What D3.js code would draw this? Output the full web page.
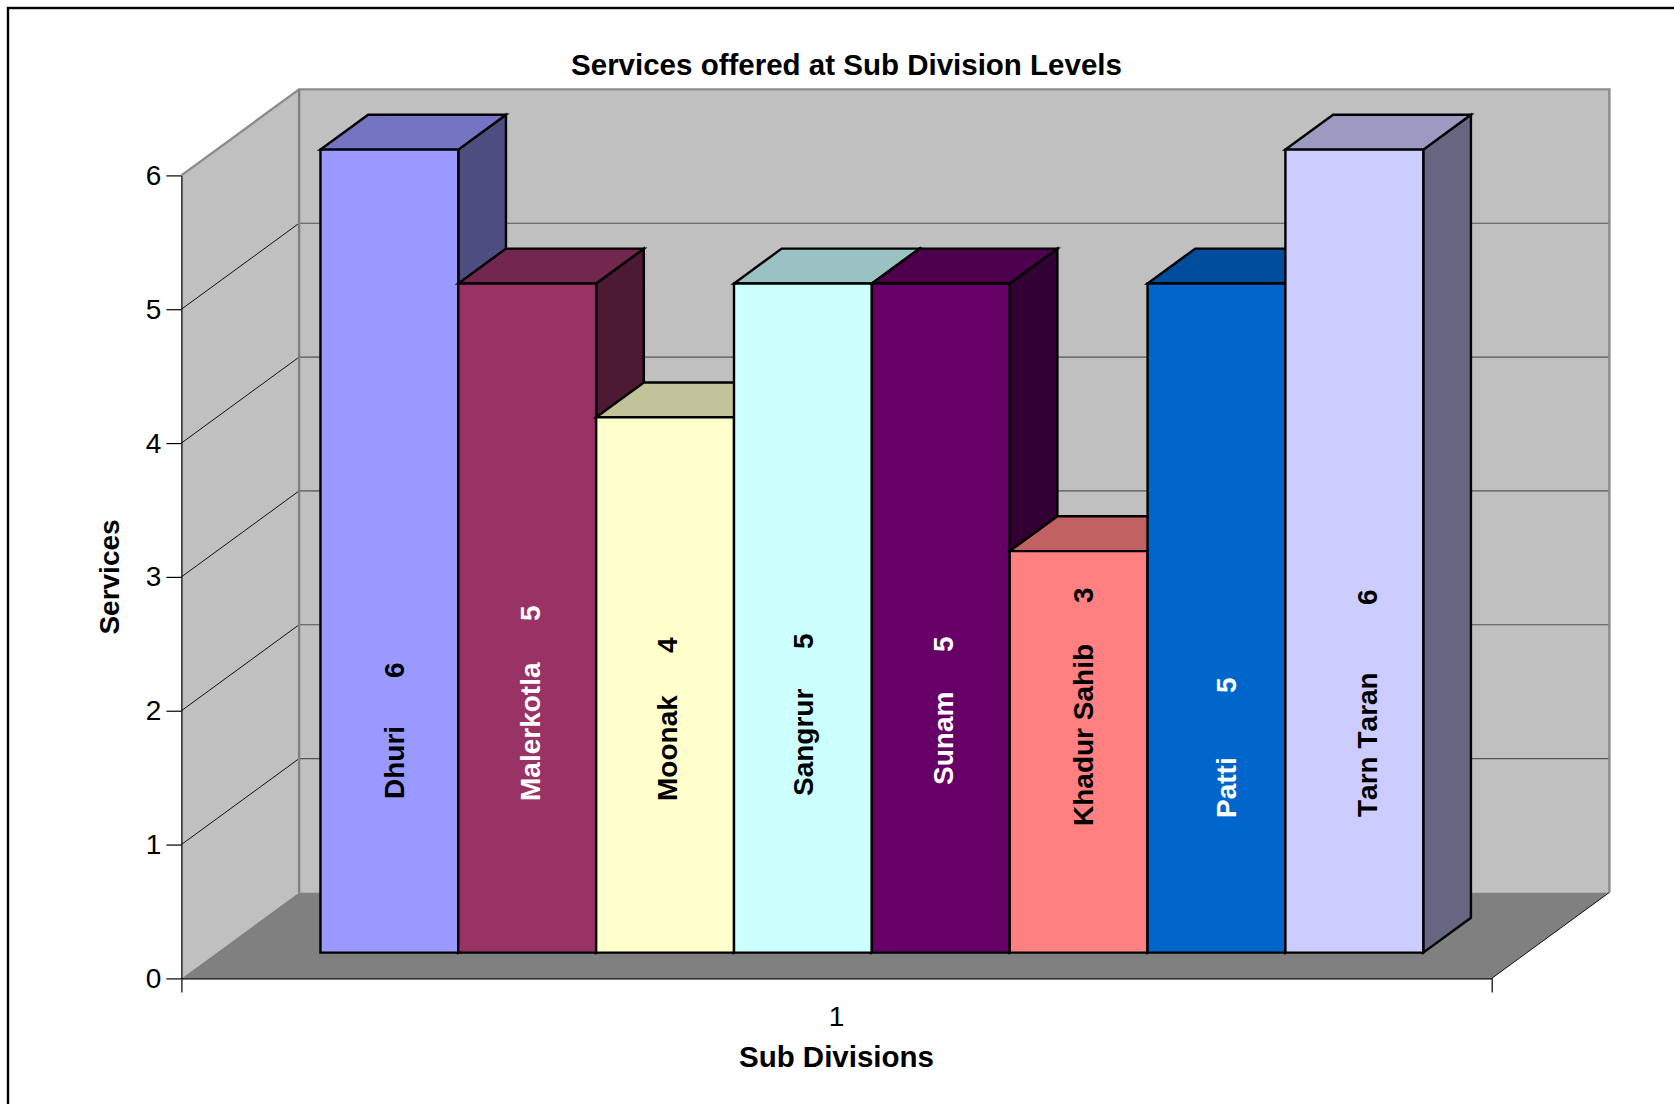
<!DOCTYPE html>
<html>
<head>
<meta charset="utf-8">
<script src="https://cdn.jsdelivr.net/npm/d3@7"></script>
<style>
  html, body { margin: 0; padding: 0; background: #fff; overflow: hidden; }
  #graf { width: 1674px; height: 1104px; }
  svg { display: block; }
  text { font-family: "Liberation Sans", Arial, sans-serif; fill: #000; }
  .eje path, .eje line { stroke: #000; stroke-width: 1.2px; }
  .eje text { font-size: 28px; }
  .negrita { font-weight: bold; font-size: 28px; font-kerning: none; }
  .titulo { font-weight: bold; font-size: 29.5px; }
</style>
</head>
<body>
<div id="graf"></div>
<script>
// I. Datos
subdivisiones = ['Dhuri', 'Malerkotla', 'Moonak', 'Sangrur', 'Sunam', 'Khadur Sahib', 'Patti', 'Tarn Taran']
servicios = [6, 5, 4, 5, 5, 3, 5, 6]
colores = ['#9999FF', '#993366', '#FFFFCC', '#CCFFFF', '#660066', '#FF8080', '#0066CC', '#CCCCFF']
colorTexto = ['#000', '#fff', '#000', '#000', '#fff', '#000', '#fff', '#000']
yTicks = [0, 1, 2, 3, 4, 5, 6]
categorias = ['1']

// II. Configuración
ancho_total = 1674
alto_total = 1104
margins = { top: 175.4, left: 181.4 }
ancho = 1310.3
alto = 803

// profundidad del piso en pixeles y posición de las barras dentro de ella
fondoX = 117.7
fondoY = 86
zFrente = 0.3
zAtras = 0.705

// las etiquetas de datos están colocadas a mano en el original:
// desplazamiento desde el centro de la barra, base del nombre y base del valor
etiquetas = [
  { dx: 5, nombre: 799, valor: 678 },
  { dx: 3, nombre: 801, valor: 621 },
  { dx: 2, nombre: 801, valor: 653 },
  { dx: 0, nombre: 796, valor: 649 },
  { dx: 2, nombre: 785, valor: 652 },
  { dx: 4, nombre: 826, valor: 603 },
  { dx: 10, nombre: 818, valor: 693 },
  { dx: 13, nombre: 817, valor: 605 }
]

svg = d3.select('#graf').append('svg')
        .attr('width', ancho_total)
        .attr('height', alto_total)

// marco exterior, se corta en el borde derecho e inferior
svg.append('rect')
   .attr('x', 8).attr('y', 8)
   .attr('width', ancho_total + 20).attr('height', alto_total + 20)
   .style('fill', '#fff')
   .style('stroke', '#000')
   .style('stroke-width', 2.4)

g = svg.append('g')
       .attr('transform', `translate(${ margins.left }, ${ margins.top })`)

y = d3.scaleLinear().domain([0, 6]).range([alto, 0])
x = d3.scaleBand()
      .domain(subdivisiones)
      .range([0, ancho])
      .paddingInner(0)
      .paddingOuter(0.7526)
xCat = d3.scaleBand().domain(categorias).range([0, ancho])

proy = (px, v, z) => [px + z * fondoX, y(v) - z * fondoY]
poli = puntos => puntos.map(p => p.join(',')).join(' ')

// III. Paredes y piso
paredes = g.append('g')

paredes.append('polygon')
  .attr('points', poli([proy(0, 0, 1), proy(ancho, 0, 1), proy(ancho, 6, 1), proy(0, 6, 1)]))
  .style('fill', '#C0C0C0')
paredes.append('polygon')
  .attr('points', poli([proy(0, 0, 0), proy(0, 0, 1), proy(0, 6, 1), proy(0, 6, 0)]))
  .style('fill', '#C0C0C0')
paredes.append('polygon')
  .attr('points', poli([proy(0, 0, 0), proy(ancho, 0, 0), proy(ancho, 0, 1), proy(0, 0, 1)]))
  .style('fill', '#808080')

// rejilla
rejilla = yTicks.filter(d => d > 0 && d < 6)
paredes.selectAll('.rejillaFondo')
  .data(rejilla).enter().append('line')
    .attr('x1', proy(0, 0, 1)[0]).attr('x2', proy(ancho, 0, 1)[0])
    .attr('y1', d => proy(0, d, 1)[1]).attr('y2', d => proy(0, d, 1)[1])
    .style('stroke', '#555')
    .style('stroke-width', 1.2)
paredes.selectAll('.rejillaLado')
  .data(rejilla).enter().append('line')
    .attr('x1', 0).attr('y1', d => y(d))
    .attr('x2', proy(0, 0, 1)[0]).attr('y2', d => proy(0, d, 1)[1])
    .style('stroke', '#111')
    .style('stroke-width', 1)

// contorno gris de las paredes
paredes.append('polyline')
  .attr('points', poli([proy(0, 6, 0), proy(0, 6, 1), proy(ancho, 6, 1), proy(ancho, 0, 1)]))
  .style('fill', 'none')
  .style('stroke', '#8c8c8c')
  .style('stroke-width', 2.4)
paredes.append('line')
  .attr('x1', proy(0, 6, 1)[0]).attr('x2', proy(0, 0, 1)[0])
  .attr('y1', proy(0, 6, 1)[1]).attr('y2', proy(0, 0, 1)[1])
  .style('stroke', '#808080')
  .style('stroke-width', 2.4)
paredes.append('line')
  .attr('x1', proy(ancho, 0, 0)[0]).attr('x2', proy(ancho, 0, 1)[0])
  .attr('y1', proy(ancho, 0, 0)[1]).attr('y2', proy(ancho, 0, 1)[1])
  .style('stroke', '#111')
  .style('stroke-width', 1)

// IV. Barras, de izquierda a derecha para que cada una tape a la anterior
datos = subdivisiones.map((nombre, i) => ({ nombre: nombre, valor: servicios[i], color: colores[i], texto: colorTexto[i], etq: etiquetas[i] }))
oscurecer = (c, f) => { r = d3.rgb(c); return d3.rgb(r.r * f, r.g * f, r.b * f).formatHex() }

barras = g.selectAll('.barra')
  .data(datos).enter().append('g')
    .attr('class', 'barra')
    .style('stroke', '#000')
    .style('stroke-width', 2.4)
    .style('stroke-linejoin', 'miter')

// lado
barras.append('polygon')
  .attr('points', d => {
    xd = x(d.nombre) + x.bandwidth()
    return poli([proy(xd, 0, zFrente), proy(xd, 0, zAtras), proy(xd, d.valor, zAtras), proy(xd, d.valor, zFrente)])
  })
  .style('fill', d => oscurecer(d.color, 0.5))
// tapa
barras.append('polygon')
  .attr('points', d => {
    xi = x(d.nombre)
    xd = xi + x.bandwidth()
    return poli([proy(xi, d.valor, zFrente), proy(xd, d.valor, zFrente), proy(xd, d.valor, zAtras), proy(xi, d.valor, zAtras)])
  })
  .style('fill', d => oscurecer(d.color, 0.76))
// frente
barras.append('polygon')
  .attr('points', d => {
    xi = x(d.nombre)
    xd = xi + x.bandwidth()
    return poli([proy(xi, 0, zFrente), proy(xd, 0, zFrente), proy(xd, d.valor, zFrente), proy(xi, d.valor, zFrente)])
  })
  .style('fill', d => d.color)

// etiquetas de datos
centroBarra = d => proy(x(d.nombre) + x.bandwidth() / 2, 0, zFrente)[0] + d.etq.dx

etqNombre = g.selectAll('.etqNombre')
  .data(datos).enter().append('text')
    .attr('class', 'negrita')
    .attr('transform', d => `translate(${ centroBarra(d) + 10 }, ${ d.etq.nombre - margins.top }) rotate(-90)`)
    .style('fill', d => d.texto)
    .text(d => d.nombre)
etqValor = g.selectAll('.etqValor')
  .data(datos).enter().append('text')
    .attr('class', 'negrita')
    .attr('transform', d => `translate(${ centroBarra(d) + 10 }, ${ d.etq.valor - margins.top }) rotate(-90)`)
    .style('fill', d => d.texto)
    .text(d => d.valor)

// V. Ejes
yAxisCall = d3.axisLeft(y)
              .tickValues(yTicks)
              .tickFormat(d3.format('d'))
              .tickSizeInner(15)
              .tickSizeOuter(0)
              .tickPadding(5)
yAxisGroup = g.append('g').attr('class', 'eje').call(yAxisCall)

xAxisCall = d3.axisBottom(xCat)
              .tickSizeInner(0)
              .tickSizeOuter(14)
              .tickPadding(28)
xAxisGroup = g.append('g')
              .attr('class', 'eje')
              .attr('transform', `translate(0, ${ alto })`)
              .call(xAxisCall)
xAxisGroup.selectAll('text').attr('dy', 0).attr('y', 48)

// VI. Títulos
svg.append('text')
   .attr('class', 'titulo')
   .attr('x', 846.5).attr('y', 75)
   .attr('text-anchor', 'middle')
   .text('Services offered at Sub Division Levels')
svg.append('text')
   .attr('class', 'titulo')
   .attr('x', 836.5).attr('y', 1067)
   .attr('text-anchor', 'middle')
   .text('Sub Divisions')
svg.append('text')
   .attr('class', 'negrita')
   .attr('transform', 'translate(119, 577) rotate(-90)')
   .attr('text-anchor', 'middle')
   .text('Services')
</script>
</body>
</html>
